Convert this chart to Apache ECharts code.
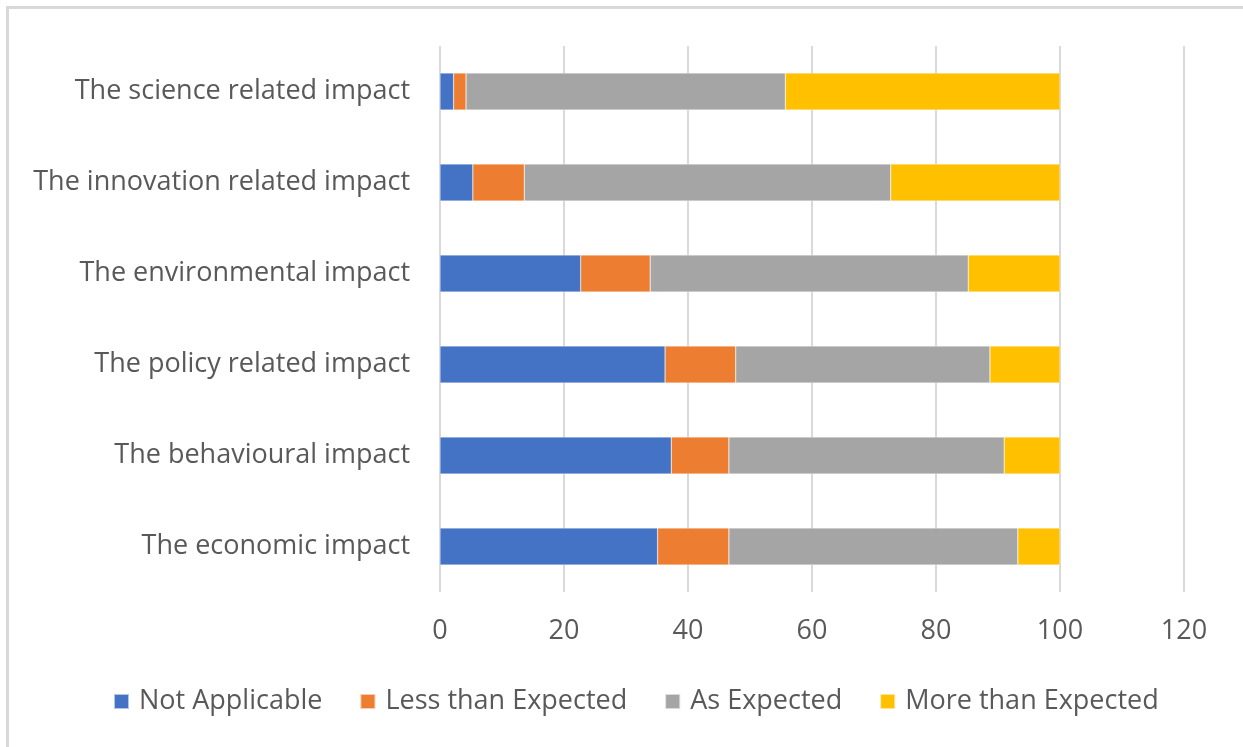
<!DOCTYPE html>
<html>
<head>
<meta charset="utf-8">
<script src="https://cdn.jsdelivr.net/npm/echarts@6/dist/echarts.min.js"></script>
<style>
  html, body { margin: 0; padding: 0; background: #ffffff; overflow: hidden; width: 1243px; height: 747px; }
  #frame {
    position: absolute; left: 6px; top: 6px; width: 1237px; height: 741px;
    border: none; border-left: 3px solid #d9d9d9; border-top: 3px solid #d9d9d9; box-sizing: border-box;
  }
  #chart { position: absolute; left: 0; top: 0; width: 1243px; height: 747px; }
</style>
</head>
<body>
<div id="frame"></div>
<div id="chart"></div>
<script>
// Impact categories, listed top to bottom
const categories = [
  'The science related impact',
  'The innovation related impact',
  'The environmental impact',
  'The policy related impact',
  'The behavioural impact',
  'The economic impact'
];

// Share of responses (%) per rating
const notApplicable    = [2.2, 5.3, 22.7, 36.3, 37.3, 35.1];
const lessThanExpected = [2.0, 8.3, 11.2, 11.4, 9.3, 11.5];
const asExpected       = [51.5, 59.1, 51.3, 41.0, 44.4, 46.6];
const moreThanExpected = [44.3, 27.3, 14.8, 11.3, 9.0, 6.8];

const seriesNames = ['Not Applicable', 'Less than Expected', 'As Expected', 'More than Expected'];
const seriesColors = ['#4472c4', '#ed7d31', '#a5a5a5', '#ffc000'];
const seriesValues = [notApplicable, lessThanExpected, asExpected, moreThanExpected];

const font = '"Open Sans", "Liberation Sans", sans-serif';
const textColor = '#595959';
const fontSize = 27;

const chart = echarts.init(document.getElementById('chart'), null, { renderer: 'canvas' });

chart.setOption({
  animation: false,
  backgroundColor: 'transparent',
  grid: { left: 440, right: 59, top: 46, bottom: 155, containLabel: false },
  legend: {
    bottom: 27,
    left: 108,
    itemWidth: 15,
    itemHeight: 15,
    itemGap: 37,
    icon: 'rect',
    textStyle: { fontFamily: font, fontSize: fontSize, color: textColor, padding: [0, 0, 0, 5] },
    data: seriesNames
  },
  xAxis: {
    type: 'value',
    min: 0,
    max: 120,
    interval: 20,
    axisLine: { show: false },
    axisTick: { show: false },
    axisLabel: { fontFamily: font, fontSize: fontSize, color: textColor, margin: 26 },
    splitLine: { show: true, lineStyle: { color: '#d9d9d9', width: 2 } }
  },
  yAxis: {
    type: 'category',
    inverse: true,
    data: categories,
    axisLine: { show: false },
    axisTick: { show: false },
    axisLabel: { fontFamily: font, fontSize: fontSize, color: textColor, margin: 30 },
    splitLine: { show: false }
  },
  series: seriesNames.map((name, i) => ({
    name: name,
    type: 'bar',
    stack: 'total',
    barWidth: 37,
    itemStyle: { color: seriesColors[i], borderColor: 'rgba(255,255,255,0.6)', borderWidth: 0.5 },
    data: seriesValues[i]
  }))
});
</script>
</body>
</html>
